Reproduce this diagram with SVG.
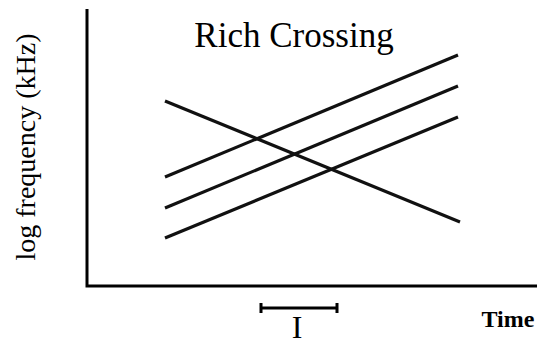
<svg xmlns="http://www.w3.org/2000/svg" width="542" height="345" viewBox="0 0 542 345">
<style>
.ax{stroke:#000;stroke-width:3;fill:none}
.ln{stroke:#111;stroke-width:3.2;fill:none;stroke-linecap:butt}
.t{font-family:"Liberation Serif","Times New Roman",serif;fill:#000}
</style>
<rect width="542" height="345" fill="#fff"/>
<g id="axes">
<path class="ax" d="M87,9 V286 H537"/>
</g>
<g id="ylabel"><text class="t" font-size="28" text-anchor="middle" transform="translate(35,147) rotate(-90)">log frequency (kHz)</text></g>
<g id="title"><text class="t" x="294" y="47" font-size="35" text-anchor="middle">Rich Crossing</text></g>
<g id="connectors">
<line class="ln" x1="165" y1="177" x2="458" y2="55"/>
<line class="ln" x1="165" y1="208" x2="458" y2="86"/>
<line class="ln" x1="165" y1="238" x2="458" y2="117"/>
<line class="ln" x1="165" y1="101" x2="460" y2="222"/>
</g>
<g id="interval">
<path class="ax" stroke-width="2" d="M261,308 H337 M261,303 V313 M337,303 V313"/>
<text class="t" x="297" y="338" font-size="32" text-anchor="middle">I</text>
</g>
<g id="xlabel"><text class="t" x="508" y="327" font-size="24" font-weight="bold" text-anchor="middle">Time</text></g>
</svg>
